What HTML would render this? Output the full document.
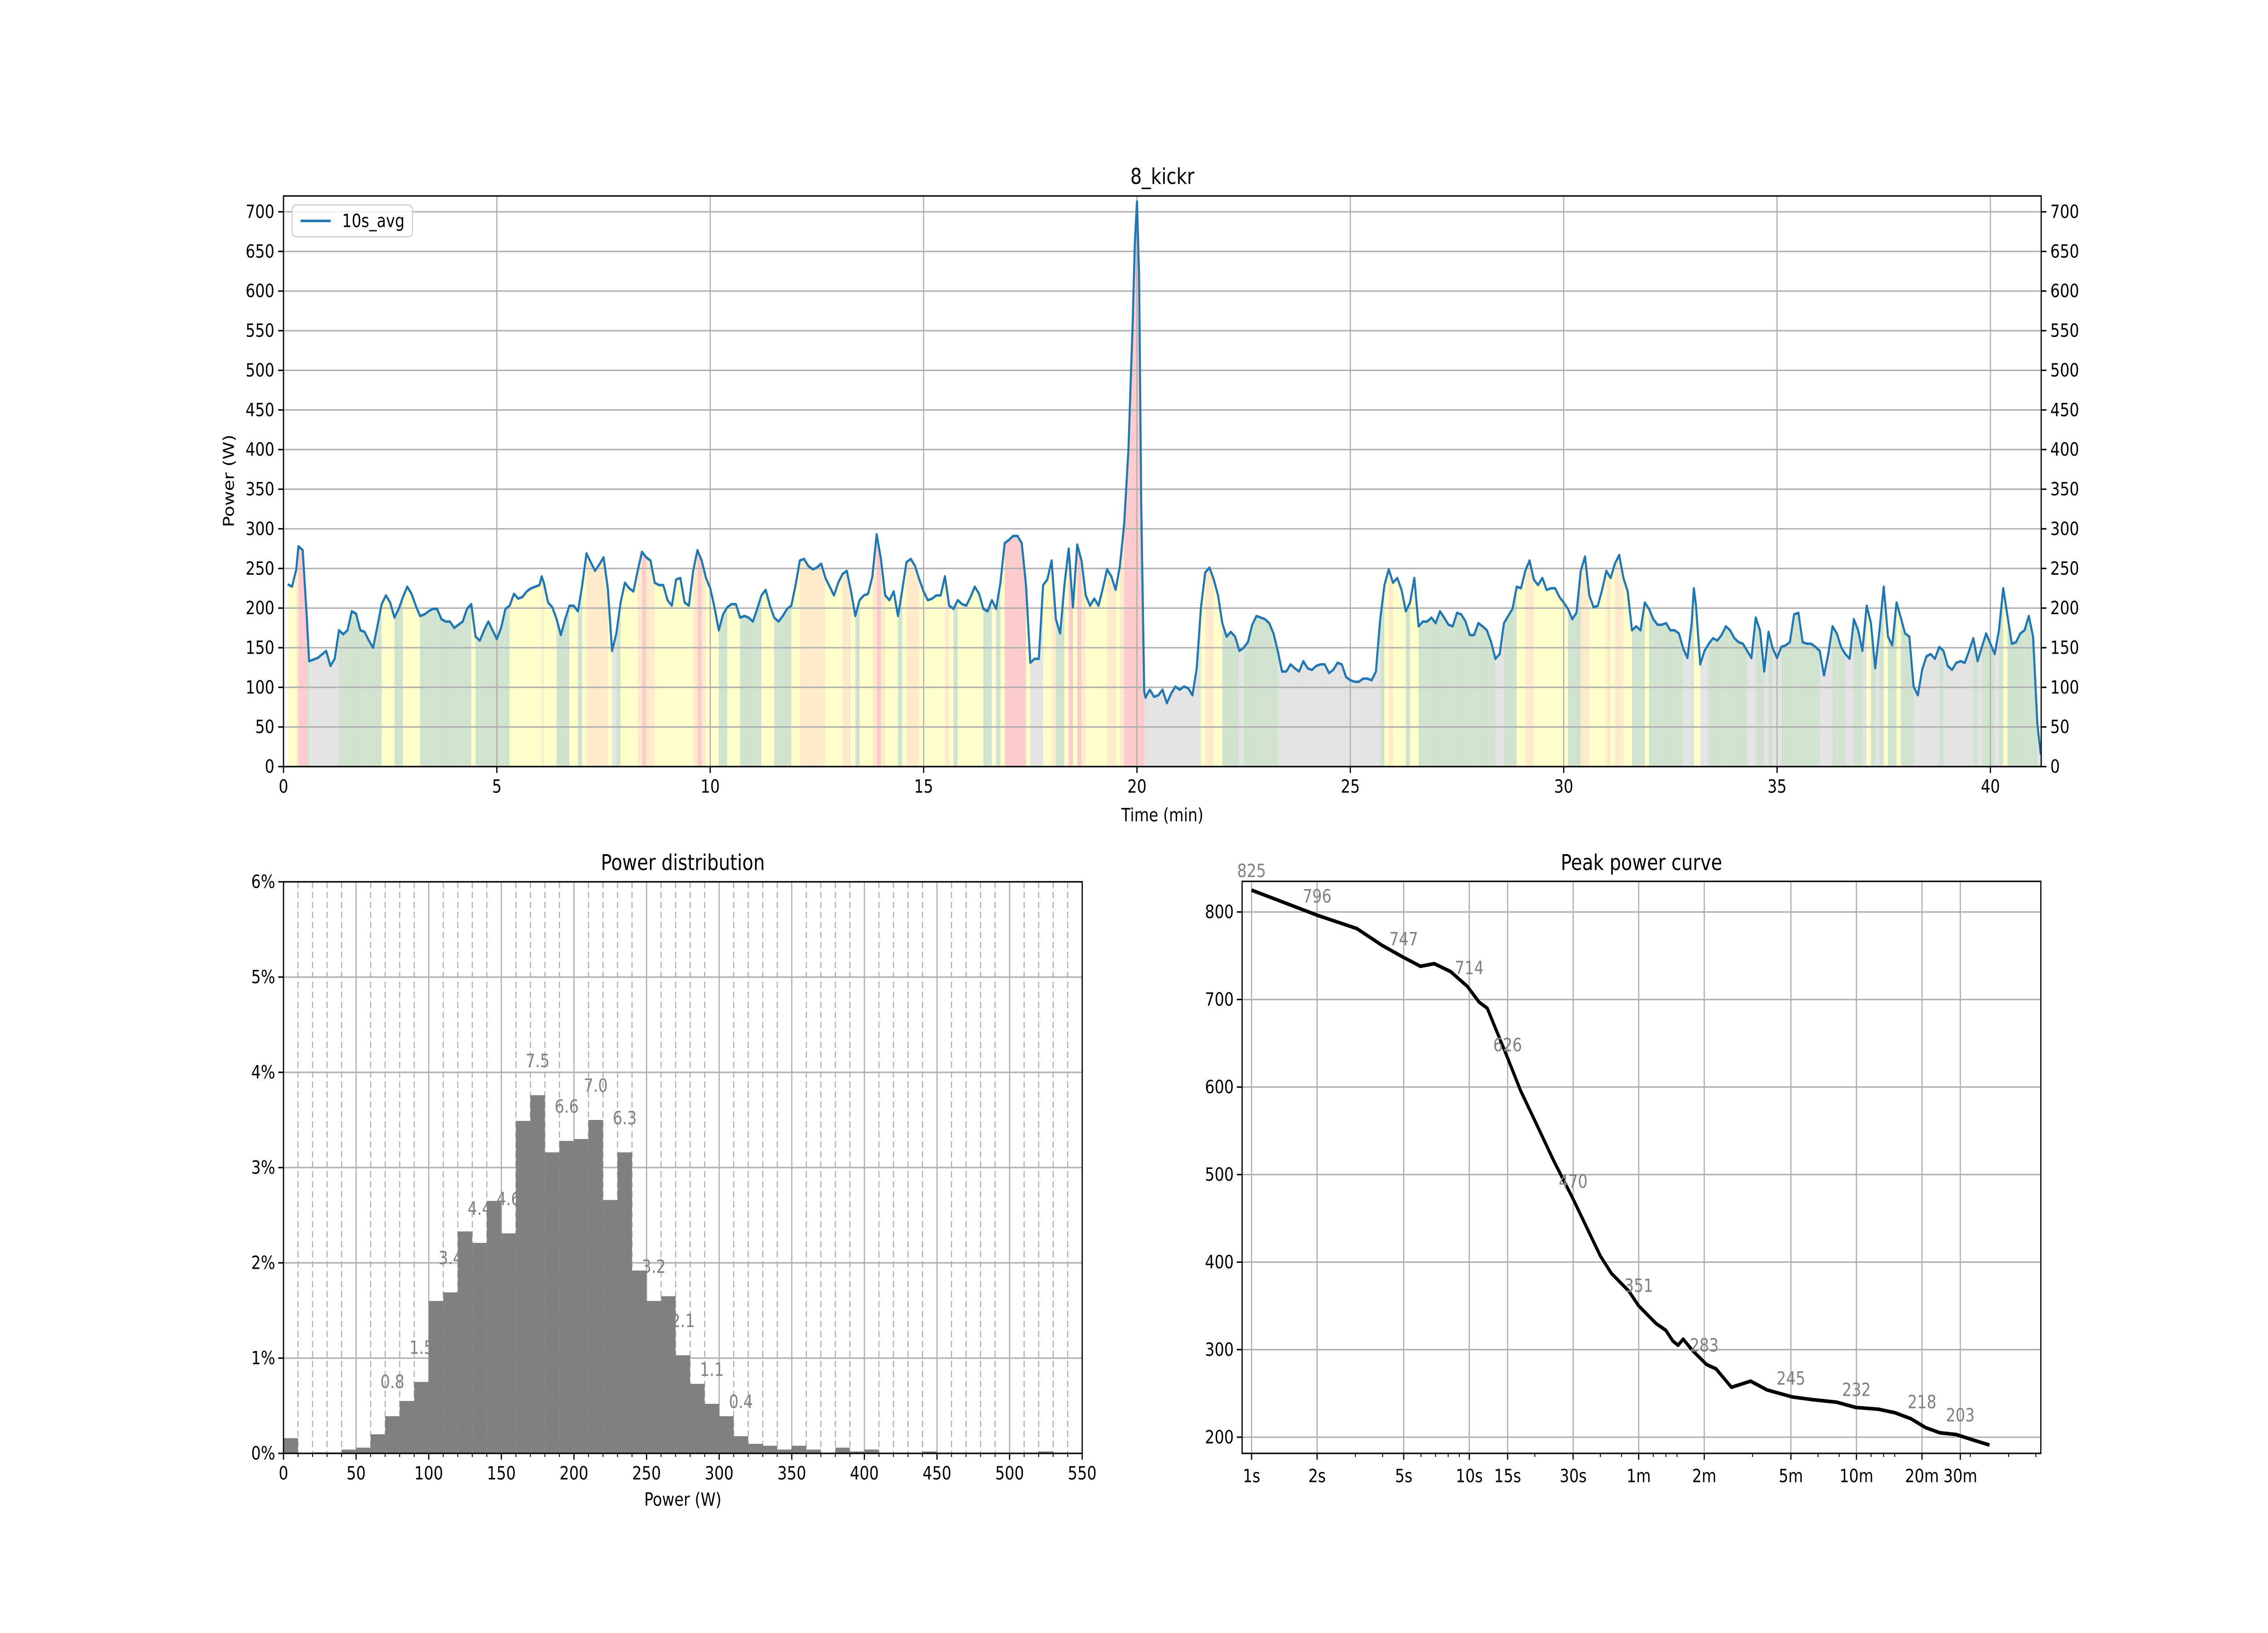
<!DOCTYPE html>
<html><head><meta charset="utf-8"><style>
html,body{margin:0;padding:0;background:#fff;overflow:hidden;width:100%;height:100%;}
svg{display:block;width:100vw;height:100vh;font-family:"DejaVu Sans","Liberation Sans",sans-serif;}
</style></head><body>
<svg id="fig" viewBox="0 0 6000 3600" preserveAspectRatio="none" xmlns="http://www.w3.org/2000/svg"></svg>
<script>
// ---------- Top chart data ----------
const timeMin = [0.1,0.2,0.3,0.35,0.45,0.55,0.6,0.8,1.0,1.1,1.2,1.3,1.4,1.5,1.6,1.7,1.8,1.9,2.0,2.1,2.2,2.3,2.4,2.5,2.6,2.7,2.8,2.9,3.0,3.1,3.2,3.3,3.4,3.5,3.6,3.7,3.8,3.9,4.0,4.1,4.2,4.3,4.4,4.5,4.6,4.7,4.8,4.9,5.0,5.1,5.2,5.3,5.4,5.5,5.6,5.7,5.8,5.9,6.0,6.05,6.1,6.2,6.3,6.4,6.5,6.6,6.7,6.8,6.9,7.0,7.1,7.2,7.3,7.4,7.5,7.6,7.7,7.8,7.9,8.0,8.1,8.2,8.3,8.4,8.5,8.6,8.7,8.8,8.9,9.0,9.1,9.2,9.3,9.4,9.5,9.6,9.7,9.8,9.9,10.0,
10.1,10.2,10.3,10.4,10.5,10.6,10.7,10.8,10.9,11.0,11.1,11.2,11.3,11.4,11.5,11.6,11.7,11.8,11.9,12.0,12.1,12.2,12.3,12.4,12.5,12.6,12.7,12.8,12.9,13.0,13.1,13.2,13.3,13.4,13.5,13.6,13.7,13.8,13.9,14.0,14.1,14.2,14.3,14.4,14.5,14.6,14.7,14.8,14.9,15.0,15.1,15.2,15.3,15.4,15.5,15.6,15.7,15.8,15.9,16.0,16.1,16.2,16.3,16.4,16.5,16.6,16.7,16.8,16.9,17.0,17.1,17.2,17.3,17.4,17.5,17.6,17.7,17.8,17.9,18.0,18.1,18.2,18.3,18.4,18.5,18.6,18.7,18.8,18.9,19.0,19.1,19.2,19.3,19.4,19.5,19.6,19.7,19.8,19.9,19.95,20.0,20.05,20.1,20.17,
20.2,20.3,20.4,20.5,20.6,20.7,20.8,20.9,21.0,21.1,21.2,21.3,21.4,21.5,21.6,21.7,21.8,21.9,22.0,22.1,22.2,22.3,22.4,22.5,22.6,22.7,22.8,22.9,23.0,23.1,23.2,23.3,23.4,23.5,23.6,23.7,23.8,23.9,24.0,24.1,24.2,24.3,24.4,24.5,24.6,24.7,24.8,24.9,25.0,25.1,25.2,25.3,25.4,25.5,25.6,25.7,25.8,25.9,26.0,26.1,26.2,26.3,26.4,26.5,26.6,26.7,26.8,26.9,27.0,27.1,27.2,27.3,27.4,27.5,27.6,27.7,27.8,27.9,28.0,28.1,28.2,28.3,28.4,28.5,28.6,28.7,28.8,28.9,29.0,29.1,29.2,29.3,29.4,29.5,29.6,29.7,29.8,29.9,30.0,
30.1,30.2,30.3,30.4,30.5,30.6,30.7,30.8,30.9,31.0,31.1,31.2,31.3,31.4,31.5,31.6,31.7,31.8,31.9,32.0,32.1,32.2,32.3,32.4,32.5,32.6,32.7,32.8,32.9,33.0,33.05,33.1,33.2,33.3,33.4,33.5,33.6,33.7,33.8,33.9,34.0,34.1,34.2,34.3,34.4,34.5,34.6,34.7,34.8,34.9,35.0,35.1,35.2,35.3,35.4,35.5,35.6,35.7,35.8,35.9,36.0,36.1,36.2,36.3,36.4,36.5,36.6,36.7,36.8,36.9,37.0,37.1,37.2,37.3,37.4,37.5,37.6,37.7,37.8,37.9,38.0,38.1,38.2,38.3,38.4,38.5,38.6,38.7,38.8,38.9,39.0,39.1,39.2,39.3,39.4,39.5,39.6,39.7,39.8,39.9,40.0,40.1,40.2,40.3,40.4,40.5,40.6,40.7,40.8,40.9,41.0,41.1,41.18];
const power10s = [230,227,249,278,273,185,133,137,146,127,136,172,167,172,196,193,172,170,159,150,177,205,216,207,188,199,214,227,218,203,190,192,196,199,199,186,183,183,175,179,183,199,205,164,159,172,183,172,161,175,199,203,218,212,214,221,225,227,229,240,232,207,201,186,166,186,203,203,196,229,269,258,247,255,264,225,146,168,207,232,225,221,247,271,264,260,232,229,229,210,203,236,238,207,203,247,273,260,238,225,
201,172,192,201,205,205,188,190,188,183,199,216,223,203,188,183,190,199,203,229,260,262,253,249,251,256,238,227,216,232,243,247,221,190,210,216,218,240,293,262,216,210,221,190,223,258,262,253,236,221,210,212,216,216,240,203,199,210,205,203,214,227,218,199,196,210,199,232,282,286,291,291,282,229,131,136,136,229,236,260,186,168,229,275,201,280,260,216,203,212,203,225,249,240,223,253,306,400,560,660,713,620,330,95,
87,97,88,90,97,80,92,101,97,101,99,90,124,201,245,251,236,216,181,164,170,164,146,150,157,179,190,188,186,181,168,146,120,120,129,124,120,133,124,122,127,129,129,118,122,131,129,113,109,107,107,111,111,109,120,186,229,249,232,238,223,196,207,238,177,183,183,188,181,196,188,179,177,194,192,183,166,166,181,177,172,157,136,142,181,190,199,227,225,247,260,236,229,238,223,225,225,214,207,
199,186,194,247,265,216,201,203,223,247,238,256,267,238,221,172,177,172,207,199,186,179,179,181,172,172,168,149,137,181,225,203,129,146,155,162,159,166,177,172,162,157,155,146,137,188,172,120,170,149,137,151,153,157,192,194,157,155,155,151,146,115,142,177,168,151,142,136,186,172,146,203,181,124,172,227,164,153,207,188,168,164,101,90,122,139,142,136,151,146,127,122,131,133,131,146,162,133,151,168,155,142,172,225,190,155,157,168,172,190,164,54,15];
const yTicksTop = [0,50,100,150,200,250,300,350,400,450,500,550,600,650,700];
const xTicksTop = [0,5,10,15,20,25,30,35,40];

// ---------- Histogram data ----------
const binStarts = [0,10,20,30,40,50,60,70,80,90,100,110,120,130,140,150,160,170,180,190,200,210,220,230,240,250,260,270,280,290,300,310,320,330,340,350,360,370,380,390,400,410,420,430,440,450,460,470,480,490,500,510,520,530,540];
const binPct = [0.16,0,0.01,0.01,0.04,0.06,0.2,0.39,0.55,0.75,1.6,1.69,2.33,2.21,2.65,2.31,3.49,3.76,3.16,3.28,3.3,3.5,2.66,3.16,1.92,1.6,1.65,1.03,0.73,0.52,0.39,0.18,0.1,0.08,0.04,0.08,0.04,0.005,0.06,0.02,0.04,0,0,0,0.02,0,0,0,0,0,0,0,0.02,0,0];
const histLabelBins = [70,90,110,130,150,170,190,210,230,250,270,290,310];
const histLabels = ["0.8","1.5","3.4","4.4","4.6","7.5","6.6","7.0","6.3","3.2","2.1","1.1","0.4"];
const histXTicks = [0,50,100,150,200,250,300,350,400,450,500,550];
const histYTicks = [0,1,2,3,4,5,6];

// ---------- Peak curve data ----------
const durSec = [1,2.02,3.05,3.97,5,5.97,6.9,8.2,9.8,11.1,12.1,14.9,17.2,20.5,24.4,30,40,45,54,60,72,80,86,91,96,106,123,136,160,196,233,304,374,486,595,754,900,1070,1245,1450,1725,2050,2450];
const peakW = [825,796,781,762,748,738,741,732,715,697,690,635,596,556,516,472,407,387,367,350,330,322,310,305,312,299,283,278,257,264,254,246,243,240,234,232,228,221,211,205,203,197,191];
const peakLabelDur = [1,2,5,10,15,30,60,120,300,600,1200,1800];
const peakLabelVal = [825,796,747,714,626,470,351,283,245,232,218,203];
const peakTickSec = [1,2,5,10,15,30,60,120,300,600,1200,1800];
const peakTickLbl = ["1s","2s","5s","10s","15s","30s","1m","2m","5m","10m","20m","30m"];
const peakYTicks = [200,300,400,500,600,700,800];

const svg = document.getElementById('fig');
const NS = 'http://www.w3.org/2000/svg';
function mk(tag, attrs, parent){const e=document.createElementNS(NS,tag);for(const k in attrs)e.setAttribute(k,attrs[k]);(parent||svg).appendChild(e);return e;}
function txt(x,y,s,size,anchor,fill,parent){const e=mk('text',{x:x,y:y,'font-size':size,'text-anchor':anchor||'middle','dominant-baseline':'central',fill:fill||'#000'},parent);e.textContent=s;return e;}
const GRID='#b0b0b0', FS=40;

// ===== TOP CHART =====
const A={l:750,r:5400,t:432,b:1690,xmax:41.19,ymax:720};
const tx=v=>A.l+(v/A.xmax)*(A.r-A.l);
const ty=v=>A.b-(v/A.ymax)*(A.b-A.t);
const gTop=mk('g',{});


function zoneColor(p){if(p>=270)return '#fccccc';if(p>=240)return '#fdebcc';if(p>=200)return '#ffffcc';if(p>=150)return '#cfe3cf';return '#e4e4e4';}
const gFill=mk('g',{},gTop);


for(let i=0;i<timeMin.length-1;i++){
  const x0=tx(timeMin[i]),x1=tx(timeMin[i+1]);
  const p=mk('polygon',{points:`${x0},${ty(0)} ${x0},${ty(power10s[i])} ${x1},${ty(power10s[i+1])} ${x1},${ty(0)}`,fill:zoneColor(power10s[i])},gFill);
  
  
}
for(const v of yTicksTop){
  const l=mk('line',{x1:A.l,x2:A.r,y1:ty(v),y2:ty(v),stroke:GRID,'stroke-width':3.2},gTop);
  
  
  mk('line',{x1:A.l-14,x2:A.l,y1:ty(v),y2:ty(v),stroke:'#000','stroke-width':3.2},gTop);
  mk('line',{x1:A.r,x2:A.r+14,y1:ty(v),y2:ty(v),stroke:'#000','stroke-width':3.2},gTop);
  const a=txt(A.l-24,ty(v),String(v),FS,'end','#000',gTop);
  
  
  const b=txt(A.r+24,ty(v),String(v),FS,'start','#000',gTop);
  
  
}
for(const v of xTicksTop){
  const l=mk('line',{x1:tx(v),x2:tx(v),y1:A.t,y2:A.b,stroke:GRID,'stroke-width':3.2},gTop);
  
  
  mk('line',{x1:tx(v),x2:tx(v),y1:A.b,y2:A.b+14,stroke:'#000','stroke-width':3.2},gTop);
  const a=txt(tx(v),A.b+44,String(v),FS,'middle','#000',gTop);
  
  
}
const line=mk('polyline',{points:timeMin.map((t,i)=>tx(t)+','+ty(power10s[i])).join(' '),fill:'none',stroke:'#1f77b4','stroke-width':5.5,'stroke-linejoin':'round'},gTop);


const fr=mk('rect',{x:A.l,y:A.t,width:A.r-A.l,height:A.b-A.t,fill:'none',stroke:'#000','stroke-width':3.2},gTop);


</script>
<script>
(function(){
const svg=document.getElementById('fig');
const NS='http://www.w3.org/2000/svg';
function t(x,y,s,size,name,rot){const e=document.createElementNS(NS,'text');e.setAttribute('x',x);e.setAttribute('y',y);e.setAttribute('font-size',size);e.setAttribute('text-anchor','middle');e.setAttribute('dominant-baseline','central');if(rot)e.setAttribute('transform',`rotate(-90 ${x} ${y})`);e.textContent=s;


svg.appendChild(e);return e;}
t(3075,390,'8_kickr',48,'chart-title');
t(605,1060,'Power (W)',40,'y-axis-title',true);
t(3075,1797,'Time (min)',40,'x-axis-title');
const lg=document.createElementNS(NS,'g');


svg.appendChild(lg);
lg.innerHTML='<rect x="773" y="452" width="318" height="70" rx="10" fill="#fff" fill-opacity="0.8" stroke="#d0d0d0" stroke-width="3"/><line x1="795" y1="487" x2="875" y2="487" stroke="#1f77b4" stroke-width="5.5"/><text x="905" y="487" font-size="40" dominant-baseline="central">10s_avg</text>';
})();
</script>
<script>
// ===== HISTOGRAM =====
(function(){
const svg=document.getElementById('fig');const NS='http://www.w3.org/2000/svg';
function mk(tag,a,p){const e=document.createElementNS(NS,tag);for(const k in a)e.setAttribute(k,a[k]);p.appendChild(e);return e;}
function txt(x,y,s,size,anchor,fill,p){const e=mk('text',{x:x,y:y,'font-size':size,'text-anchor':anchor,'dominant-baseline':'central',fill:fill},p);e.textContent=s;return e;}
const H={l:750,r:2863,t:1944,b:3204,xmax:550,ymax:6};
const hx=v=>H.l+v/H.xmax*(H.r-H.l);
const hy=v=>H.b-v/H.ymax*(H.b-H.t);
const g=mk('g',{},svg);


for(let v=10;v<550;v+=10){ if(v%50===0)continue;
  const l=mk('line',{x1:hx(v),x2:hx(v),y1:H.t,y2:H.b,stroke:'#b0b0b0','stroke-width':3,'stroke-dasharray':'14,8'},g);
  
  
  mk('line',{x1:hx(v),x2:hx(v),y1:H.b,y2:H.b+8,stroke:'#000','stroke-width':2.4},g);
}
for(const v of histXTicks){
  const l=mk('line',{x1:hx(v),x2:hx(v),y1:H.t,y2:H.b,stroke:'#b0b0b0','stroke-width':3.2},g);
  
  
  mk('line',{x1:hx(v),x2:hx(v),y1:H.b,y2:H.b+14,stroke:'#000','stroke-width':3.2},g);
  const a=txt(hx(v),H.b+44,String(v),40,'middle','#000',g);
  
  
}
for(const v of histYTicks){
  const l=mk('line',{x1:H.l,x2:H.r,y1:hy(v),y2:hy(v),stroke:'#b0b0b0','stroke-width':3.2},g);
  
  
  mk('line',{x1:H.l-14,x2:H.l,y1:hy(v),y2:hy(v),stroke:'#000','stroke-width':3.2},g);
  const a=txt(H.l-22,hy(v),v+'%',40,'end','#000',g);
  
  
}
binStarts.forEach((b,i)=>{
  if(binPct[i]<=0)return;
  const r=mk('rect',{x:hx(b),y:hy(binPct[i]),width:hx(b+10)-hx(b),height:hy(0)-hy(binPct[i]),fill:'#808080'},g);
  
  
});
histLabelBins.forEach((b,i)=>{
  const h=binPct[binStarts.indexOf(b)];
  const a=txt(hx(b+5),hy(h+0.36),histLabels[i],40,'middle','#808080',g);
  
  
});
const f=mk('rect',{x:H.l,y:H.t,width:H.r-H.l,height:H.b-H.t,fill:'none',stroke:'#000','stroke-width':3.2},g);


const tt=txt((H.l+H.r)/2,1902,'Power distribution',48,'middle','#000',g);


const xl=txt((H.l+H.r)/2,3306,'Power (W)',40,'middle','#000',g);


})();
</script>
<script>
// ===== PEAK POWER CURVE =====
(function(){
const svg=document.getElementById('fig');const NS='http://www.w3.org/2000/svg';
function mk(tag,a,p){const e=document.createElementNS(NS,tag);for(const k in a)e.setAttribute(k,a[k]);p.appendChild(e);return e;}
function txt(x,y,s,size,anchor,fill,p){const e=mk('text',{x:x,y:y,'font-size':size,'text-anchor':anchor,'dominant-baseline':'central',fill:fill},p);e.textContent=s;return e;}
const Q={l:3286,r:5399,t:1943,b:3204,xmin:0.905,xmax:4217,ymin:181.5,ymax:835};
const L=Math.log10;
const qx=v=>Q.l+(L(v)-L(Q.xmin))/(L(Q.xmax)-L(Q.xmin))*(Q.r-Q.l);
const qy=v=>Q.b-(v-Q.ymin)/(Q.ymax-Q.ymin)*(Q.b-Q.t);
const g=mk('g',{},svg);


for(const v of peakYTicks){
  const l=mk('line',{x1:Q.l,x2:Q.r,y1:qy(v),y2:qy(v),stroke:'#b0b0b0','stroke-width':3.2},g);
  
  
  mk('line',{x1:Q.l-14,x2:Q.l,y1:qy(v),y2:qy(v),stroke:'#000','stroke-width':3.2},g);
  const a=txt(Q.l-22,qy(v),String(v),40,'end','#000',g);
  
  
}
for(let d=1;d<=1000;d*=10){for(let n=2;n<10;n++){const s=n*d;if(s>=Q.xmax||peakTickSec.indexOf(s)>=0)continue;
  mk('line',{x1:qx(s),x2:qx(s),y1:Q.b,y2:Q.b+8,stroke:'#000','stroke-width':2.4},g);}}
peakTickSec.forEach((s,i)=>{
  const l=mk('line',{x1:qx(s),x2:qx(s),y1:Q.t,y2:Q.b,stroke:'#b0b0b0','stroke-width':3.2},g);
  
  
  mk('line',{x1:qx(s),x2:qx(s),y1:Q.b,y2:Q.b+14,stroke:'#000','stroke-width':3.2},g);
  const a=txt(qx(s),Q.b+50,peakTickLbl[i],40,'middle','#000',g);
  
  
});
const pl=mk('polyline',{points:durSec.map((d,i)=>qx(d)+','+qy(peakW[i])).join(' '),fill:'none',stroke:'#000','stroke-width':8,'stroke-linejoin':'round'},g);


peakLabelDur.forEach((d,i)=>{
  const a=txt(qx(d),qy(peakLabelVal[i]+22),String(peakLabelVal[i]),40,'middle','#808080',g);
  
  
});
const f=mk('rect',{x:Q.l,y:Q.t,width:Q.r-Q.l,height:Q.b-Q.t,fill:'none',stroke:'#000','stroke-width':3.2},g);


const tt=txt((Q.l+Q.r)/2,1902,'Peak power curve',48,'middle','#000',g);


})();
</script>
</body></html>
